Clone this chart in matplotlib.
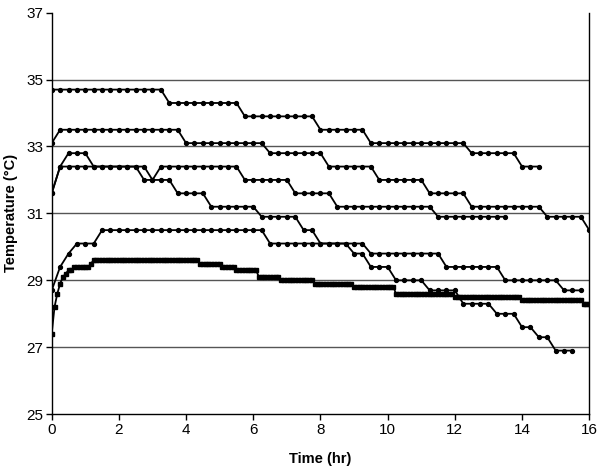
import matplotlib
matplotlib.use('Agg')
import matplotlib.pyplot as plt
import numpy as np

plt.rcParams['font.family'] = ['Liberation Sans', 'DejaVu Sans']

# readings every 15 min, written as (temperature, number of readings) runs
series_a = [(34.7, 14), (34.3, 9), (33.9, 9), (33.5, 6), (33.1, 12), (32.8, 6), (32.4, 3)]
series_b = [(33.1, 1), (33.5, 15), (33.1, 10), (32.8, 7), (32.4, 6), (32.0, 6),
            (31.6, 5), (31.2, 9), (30.9, 5), (30.5, 1)]
series_c = [(31.6, 1), (32.4, 10), (32.0, 4), (31.6, 4), (31.2, 6), (30.9, 5), (30.5, 2),
            (30.1, 4), (29.8, 2), (29.4, 3), (29.0, 4), (28.7, 4), (28.3, 4), (28.0, 3),
            (27.6, 2), (27.3, 2), (26.9, 3)]
series_d = [(31.6, 1), (32.4, 1), (32.8, 3), (32.4, 7), (32.0, 1), (32.4, 10), (32.0, 6),
            (31.6, 5), (31.2, 12), (30.9, 9)]
series_e = [(28.7, 1), (29.4, 1), (29.8, 1), (30.1, 3), (30.5, 20), (30.1, 12), (29.8, 9),
            (29.4, 7), (29.0, 7), (28.7, 3)]
# this logger read every 5 min
series_f = [(27.4, 1), (28.2, 1), (28.6, 1), (28.9, 1), (29.1, 1), (29.2, 1), (29.3, 2),
            (29.4, 6), (29.5, 1), (29.6, 38), (29.5, 8), (29.4, 5), (29.3, 8), (29.1, 8),
            (29.0, 12), (28.9, 14), (28.8, 15), (28.6, 21), (28.5, 24), (28.4, 22), (28.3, 3)]

step_15 = 0.25
step_5 = 5 / 60.0


def expand(runs):
    vals = []
    for temp, n in runs:
        vals += [temp] * n
    return np.array(vals)


fig = plt.figure(figsize=(6.04, 4.68), dpi=100)
ax = fig.add_axes([0.0856, 0.115, 0.89, 0.858])

for runs in [series_a, series_b, series_c, series_d, series_e]:
    y = expand(runs)
    t = np.arange(len(y)) * step_15
    ax.plot(t, y, color='black', lw=1.3, marker='o', ms=2.8, mfc='black', mec='black')

yf = expand(series_f)
tf = np.arange(len(yf)) * step_5
ax.plot(tf, yf, color='black', lw=1.3, marker='s', ms=2.6, mfc='black', mec='black')

ax.set_xlim(0, 16)
ax.set_ylim(25, 37)
ax.set_xticks(np.arange(0, 17, 2))
ax.set_yticks(np.arange(25, 38, 2))
for g in [27, 29, 31, 33, 35]:
    ax.axhline(g, color='#555555', lw=1.0, zorder=0)

ax.spines['top'].set_visible(False)
for s in ['left', 'bottom', 'right']:
    ax.spines[s].set_linewidth(1.0)
    ax.spines[s].set_color('black')
ax.tick_params(axis='both', direction='out', length=4, width=1, labelsize=11, pad=2)

ax.set_xlabel('Time (hr)', fontsize=10.5, fontweight='bold')
ax.set_ylabel('Temperature (\u00b0C)', fontsize=10.5, fontweight='bold')
ax.xaxis.set_label_coords(0.5, -0.095)
ax.yaxis.set_label_coords(-0.063, 0.5)

fig.savefig('out.png', dpi=100)
